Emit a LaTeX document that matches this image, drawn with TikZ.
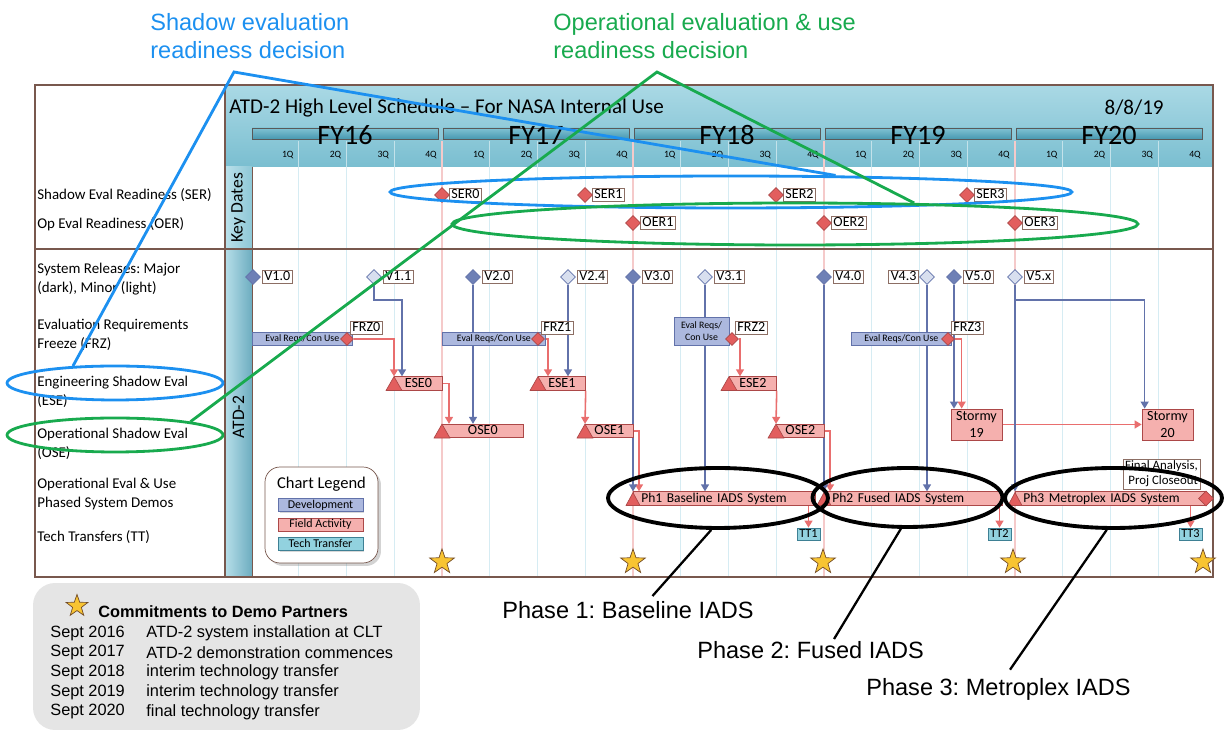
\documentclass[tikz,border=0pt]{standalone}
\usepackage{fontspec}
\setmainfont{Carlito}
\newfontfamily\annfont{Liberation Sans}
\usetikzlibrary{arrows.meta, shapes.geometric, positioning, calc, shadows}
\pgfdeclarelayer{grid}
\pgfdeclarelayer{links}
\pgfsetlayers{grid,links,main}
\definecolor{framebrown}{RGB}{120,88,78}
\definecolor{tagbrown}{RGB}{140,110,100}
\definecolor{headtop}{RGB}{170,217,229}
\definecolor{headbot}{RGB}{122,190,208}
\definecolor{fytop}{RGB}{128,194,211}
\definecolor{fybot}{RGB}{72,152,176}
\definecolor{gridblue}{RGB}{214,236,243}
\definecolor{gridred}{RGB}{245,202,202}
\definecolor{devfill}{RGB}{172,184,222}
\definecolor{devline}{RGB}{98,114,170}
\definecolor{devdark}{RGB}{110,128,182}
\definecolor{devlight}{RGB}{216,223,239}
\definecolor{fieldfill}{RGB}{245,176,174}
\definecolor{fieldline}{RGB}{172,72,72}
\definecolor{fieldred}{RGB}{226,94,94}
\definecolor{linkred}{RGB}{233,110,110}
\definecolor{ttfill}{RGB}{146,210,223}
\definecolor{ttline}{RGB}{62,128,148}
\definecolor{starfill}{RGB}{248,196,50}
\definecolor{annblue}{RGB}{28,144,240}
\definecolor{anngreen}{RGB}{24,170,78}
\definecolor{notegrey}{RGB}{229,229,229}
\frenchspacing

\begin{document}
\begin{tikzpicture}[
    x=0.02cm, y=-0.02cm,
    rowlabel/.style={anchor=west, align=left, inner sep=0pt, font=\fontsize{8.5}{10.8}\selectfont},
    datetag/.style={draw=tagbrown, fill=white, inner xsep=1.2pt, inner ysep=0pt, minimum height=0.27cm,
      text height=5.8pt, text depth=1.4pt, font=\fontsize{8}{9}\selectfont},
    keyms/.style={diamond, draw=fieldline, fill=fieldred, minimum size=0.3cm, inner sep=0pt},
    reldiamond/.style={diamond, draw=devline, minimum size=0.3cm, inner sep=0pt},
    evalbar/.style={draw=devline, fill=devfill, minimum height=0.26cm, inner sep=0pt, font=\fontsize{5.6}{6.6}\selectfont},
    fieldbar/.style={draw=fieldline, fill=fieldfill, minimum height=0.27cm, inner sep=0pt, anchor=west,
      text height=5.6pt, text depth=1.4pt, font=\fontsize{8}{9}\selectfont},
    fieldtri/.style={draw=fieldline, fill=fieldred, line join=round},
    stormbox/.style={draw=fieldline, fill=fieldfill, minimum width=1.02cm, minimum height=0.62cm, align=center,
      inner sep=0pt, font=\fontsize{8}{10}\selectfont},
    ttbox/.style={draw=ttline, fill=ttfill, minimum width=0.46cm, minimum height=0.24cm, inner sep=0pt,
      text height=5pt, text depth=1pt, font=\fontsize{7}{8}\selectfont},
    fybar/.style={draw=black!65, top color=fytop, bottom color=fybot, minimum width=3.72cm, minimum height=0.22cm,
      inner sep=0pt, anchor=west},
    qlabel/.style={anchor=east, inner sep=0pt, font=\fontsize{5.5}{6}\selectfont},
    devlink/.style={devline, line width=0.9pt, -{Triangle[length=4pt,width=4.5pt]}},
    redlink/.style={linkred, line width=0.9pt, -{Triangle[length=4pt,width=4.5pt]}},
    commit/.style={star, star points=5, star point ratio=2.5, draw=brown!60!black, fill=starfill, inner sep=0pt,
      minimum size=0.52cm},
    legendbox/.style={draw=framebrown, fill=white, rounded corners=0.3cm, minimum width=2.26cm, minimum height=1.92cm,
      drop shadow={opacity=0.35, shadow xshift=0.06cm, shadow yshift=-0.06cm}},
    legkey/.style={minimum width=1.7cm, minimum height=0.26cm, inner sep=0pt, text height=5pt, text depth=1.2pt,
      font=\fontsize{6.8}{8}\selectfont, drop shadow={opacity=0.3, shadow xshift=0.03cm, shadow yshift=-0.03cm}},
    oval/.style={ellipse, line width=1.6pt, inner sep=0pt},
    ring/.style={ellipse, draw=black, line width=2.2pt, inner sep=0pt},
    annot/.style={anchor=west, align=left, inner sep=0pt, font=\annfont\fontsize{13.4}{15.9}\selectfont},
    notetext/.style={anchor=west, inner sep=0pt, font=\annfont\fontsize{9.3}{11}\selectfont}
  ]
  \useasboundingbox (0,0) rectangle (1225,732);

  % background bands and time grid
  \begin{pgfonlayer}{grid}
    \fill[top color=headtop, bottom color=headbot] (225,85) rectangle (1213,167);
    \fill[left color=headtop!80!white, right color=headbot!85] (225,167) rectangle (252,249);
    \fill[left color=headtop!85, right color=fybot!80] (225,249) rectangle (252,577);
    \foreach \q in {1,...,19} {
      \draw[gridblue, line width=0.6pt] (251+47.75*\q,167) -- (251+47.75*\q,577);
      \draw[white!55!headbot, line width=0.6pt] (251+47.75*\q,141) -- (251+47.75*\q,167);
    }
    \foreach \q in {4,8,12,16}
      \draw[gridred, line width=0.6pt] (251+47.75*\q,141) -- (251+47.75*\q,577);
  \end{pgfonlayer}

  % frame
  \draw[framebrown, line width=0.8pt] (35,85) rectangle (1213,577);
  \draw[framebrown, line width=0.8pt] (225,85) -- (225,577);
  \draw[framebrown, line width=0.5pt] (252,167) -- (252,577);
  \draw[framebrown, line width=0.8pt] (35,249) -- (1213,249);

  % header
  \node[anchor=west, inner sep=0pt, font=\fontsize{12}{14}\selectfont] (title) at (229,108)
    {ATD-2 High Level Schedule -- For NASA Internal Use};
  \node[anchor=east, inner sep=0pt, font=\fontsize{12}{14}\selectfont] (issued) at (1164,108) {8/8/19};
  \foreach \fy [count=\k from 0] in {16,...,20} {
    \node[fybar] (fy\fy-bar) at (252+191*\k,133.5) {};
    \node[inner sep=0pt, font=\fontsize{16}{18}\selectfont] (fy\fy) at (345+191*\k,135) {FY\fy};
  }
  \foreach \q in {1,...,20} {
    \pgfmathtruncatemacro{\qn}{mod(\q-1,4)+1}
    \node[qlabel] (q\q) at (251+47.75*\q-5,155) {\qn Q};
  }

  % side strip
  \node[rotate=90, font=\fontsize{10}{12}\selectfont] (keydates) at (238.5,208) {Key Dates};
  \node[rotate=90, font=\fontsize{10}{12}\selectfont] (atd) at (238.5,417) {ATD-2};

  % row labels
  \node[rowlabel] (lab-ser) at (37,195) {Shadow Eval Readiness (SER)};
  \node[rowlabel] (lab-oer) at (37,224) {Op Eval Readiness (OER)};
  \node[rowlabel] (lab-rel) at (37,279.5) {System Releases: Major\\(dark), Minor (light)};
  \node[rowlabel] (lab-frz) at (37,335) {Evaluation Requirements\\Freeze (FRZ)};
  \node[rowlabel] (lab-ese) at (37,392) {Engineering Shadow Eval\\(ESE)};
  \node[rowlabel] (lab-ose) at (37,444) {Operational Shadow Eval\\(OSE)};
  \node[rowlabel] (lab-demo) at (37,494) {Operational Eval \& Use\\Phased System Demos};
  \node[rowlabel] (lab-tt) at (37,537) {Tech Transfers (TT)};

  % key dates
  \foreach \nm/\x/\y/\txt in {ser0/442/195/SER0, ser1/585/195/SER1, ser2/776/195/SER2, ser3/967/195/SER3,
      oer1/633/223/OER1, oer2/824/223/OER2, oer3/1015/223/OER3} {
    \node[datetag, anchor=west] (\nm-tag) at (\x+7,\y) {\txt};
    \node[keyms] (\nm) at (\x,\y) {};
  }

  % system releases
  \foreach \nm/\x/\fc/\txt in {v10/253/devdark/V1.0, v11/374/devlight/V1.1, v20/473/devdark/V2.0,
      v24/568/devlight/V2.4, v30/633/devdark/V3.0, v31/705/devlight/V3.1, v40/824/devdark/V4.0,
      v50/954/devdark/V5.0, v5x/1015/devlight/V5.x} {
    \node[datetag, anchor=west] (\nm-tag) at (\x+9,277) {\txt};
    \node[reldiamond, fill=\fc] (\nm) at (\x,277) {};
  }
  \node[datetag, anchor=east] (v43-tag) at (919,277) {V4.3};
  \node[reldiamond, fill=devlight] (v43) at (927,277) {};

  % requirements freeze
  \node[evalbar, anchor=west, minimum width=2cm] (er0) at (252,338.5) {Eval Reqs/Con Use};
  \node[evalbar, anchor=west, minimum width=2.06cm] (er1) at (442,338.5) {Eval Reqs/Con Use};
  \node[evalbar, align=center, minimum width=1.1cm, minimum height=0.56cm] (er2) at (701.5,331) {Eval Reqs/\\Con Use};
  \node[evalbar, anchor=west, minimum width=2cm] (er3) at (851,338.5) {Eval Reqs/Con Use};
  \foreach \nm/\x/\txt in {frz0/347/FRZ0, frz1/538/FRZ1, frz2/732/FRZ2, frz3/948/FRZ3} {
    \node[datetag, anchor=south west] (\nm-tag) at (\x+3,335) {\txt};
    \node[keyms, minimum size=0.26cm] (\nm) at (\x,339) {};
  }

  % shadow evaluations
  \foreach \nm/\xa/\xb/\y/\txt in {ese0/394/442/383.5/ESE0, ese1/538/585/383.5/ESE1, ese2/729/776/383.5/ESE2,
      ose0/442/523/431/OSE0, ose1/585/633/431/OSE1, ose2/776/824/431/OSE2} {
    \pgfmathsetmacro{\bw}{(\xb-\xa)*0.02}
    \node[fieldbar, minimum width=\bw cm] (\nm) at (\xa,\y) {\txt};
    \draw[fieldtri] (\nm.south west) ++(-8,0) -- ++(16,0) -- ++(-8,-14) -- cycle;
  }
  \node[stormbox] (st19) at (976.5,424.5) {Stormy\\19};
  \node[stormbox] (st20) at (1167.5,424.5) {Stormy\\20};

  % phased demos
  \node[fieldbar, text width=3.32cm, inner xsep=0.16cm, align=left, font=\fontsize{7.7}{9}\selectfont] (ph1)
    at (633,498.5) {Ph1 Baseline IADS System};
  \node[fieldbar, text width=3.24cm, inner xsep=0.16cm, align=left, font=\fontsize{7.7}{9}\selectfont] (ph2)
    at (824,498.5) {Ph2 Fused IADS System};
  \node[fieldbar, text width=3.5cm, inner xsep=0.16cm, align=left, font=\fontsize{7.7}{9}\selectfont] (ph3)
    at (1015,498.5) {Ph3 Metroplex IADS System};
  \foreach \nm in {ph1,ph2,ph3}
    \draw[fieldtri] (\nm.south west) ++(-7,0) -- ++(14,0) -- ++(-7,-13) -- cycle;
  \node[keyms] (closeout) at (1206,498.5) {};
  \node[datetag, align=right, inner ysep=1pt, text height=, text depth=, font=\fontsize{7.3}{8.6}\selectfont]
    (closeout-tag) at (1161.5,474) {Final Analysis,\\Proj Closeout};

  % tech transfers and commitments
  \foreach \nm/\x/\txt in {tt1/808.5/TT1, tt2/999.5/TT2, tt3/1190.5/TT3}
    \node[ttbox] (\nm) at (\x,534) {\txt};
  \foreach \x [count=\i] in {442,633,823,1013,1203}
    \node[commit] (star\i) at (\x,562) {};

  % legend
  \node[legendbox] (legend) at (321.5,515) {};
  \node[font=\fontsize{9.4}{11}\selectfont] (legend-title) at (321.5,484) {Chart Legend};
  \node[legkey, fill=devfill, draw=devline] (key-dev) at (320.5,505) {Development};
  \node[legkey, fill=fieldfill, draw=fieldline] (key-field) at (320.5,524.5) {Field Activity};
  \node[legkey, fill=ttfill, draw=ttline] (key-tt) at (320.5,544) {Tech Transfer};

  % connectors
  \begin{pgfonlayer}{links}
    \draw[devlink] (v11.south) -- ++(0,15) -| ([xshift=0.16cm]ese0.north west);
    \draw[redlink] (frz0.east) -| (ese0.north west);
    \draw[redlink] (ese0.east) -| ([xshift=0.14cm]ose0.north west);
    \draw[devlink] (v20.south) -- (v20.south |- ose0.north);
    \draw[redlink] (frz1.east) -| ([xshift=0.2cm]ese1.north west);
    \draw[devlink] (v24.south) -- (v24.south |- ese1.north);
    \draw[redlink] (ese1.south east) -- (ose1.north west);
    \draw[redlink] (ose1.east) -| ([xshift=0.12cm]ph1.north west);
    \draw[devlink] (v30.south) -- (v30.south |- ph1.north);
    \draw[devlink] (v31.south) -- (v31.south |- ph1.north);
    \draw[redlink] (frz2.east) -| ([xshift=0.22cm]ese2.north west);
    \draw[redlink] (ese2.south east) -- (ose2.north west);
    \draw[redlink] (ose2.east) -| ([xshift=0.12cm]ph2.north west);
    \draw[devlink] (v40.south) -- (v40.south |- ph2.north);
    \draw[devlink] (v43.south) -- (v43.south |- ph2.north);
    \draw[redlink] (frz3.east) -| ([xshift=0.22cm]st19.north west);
    \draw[devlink] (v50.south) -- (v50.south |- st19.north);
    \draw[redlink] (st19) -- (st20);
    \draw[devlink] (v5x.south) -- ++(0,15) -| ([xshift=0.06cm]st20.north west);
    \draw[devlink] (v5x.south) -- (v5x.south |- ph3.north);
    \foreach \nm/\ph in {tt1/ph1, tt2/ph2, tt3/ph3}
      \draw[redlink] (\nm.north |- \ph.south) -- (\nm.north);
  \end{pgfonlayer}

  % commitments note
  \node[fill=notegrey, rounded corners=0.44cm, minimum width=7.74cm, minimum height=2.94cm] (notes) at (226.5,656.5) {};
  \node[commit, minimum size=0.46cm] (notes-star) at (77,606) {};
  \node[notetext, font=\annfont\fontsize{9.3}{11}\bfseries\selectfont] (notes-title) at (98,612)
    {Commitments to Demo Partners};
  \foreach \yr/\what [count=\i from 0] in {2016/ATD-2 system installation at CLT, 2017/ATD-2 demonstration commences,
      2018/interim technology transfer, 2019/interim technology transfer, 2020/final technology transfer} {
    \node[notetext] (yr\yr) at (50,633+19.7*\i) {Sept \yr};
    \node[notetext] (what\yr) at (146,633+19.7*\i) {\what};
  }

  % phase call-outs
  \node[ring, minimum width=4.4cm, minimum height=1.2cm] (ph1ring) at (718,498) {};
  \node[ring, minimum width=3.8cm, minimum height=1.18cm] (ph2ring) at (907.5,497.5) {};
  \node[ring, minimum width=4.34cm, minimum height=1.2cm] (ph3ring) at (1113.5,498) {};
  \node[annot] (phase1) at (502,610) {Phase 1: Baseline IADS};
  \node[annot] (phase2) at (697,650) {Phase 2: Fused IADS};
  \node[annot] (phase3) at (866,689) {Phase 3: Metroplex IADS};
  \draw[line width=1.3pt] (ph1ring.258) -- ([xshift=0.49cm,yshift=0.1cm]phase1.north);
  \draw[line width=1.3pt] (ph2ring.258) -- ([xshift=0.47cm,yshift=0.04cm]phase2.north);
  \draw[line width=1.3pt] (ph3ring.258) -- ([xshift=0.23cm,yshift=0.16cm]phase3.north);

  % readiness decision call-outs
  \node[annot, text=annblue] (sernote) at (150,36) {Shadow evaluation\\readiness decision};
  \node[annot, text=anngreen] (oernote) at (553,36) {Operational evaluation \& use\\readiness decision};
  \node[oval, draw=annblue, minimum width=13.64cm, minimum height=0.64cm] (serov) at (731,192) {};
  \node[oval, draw=anngreen, minimum width=13.72cm, minimum height=0.84cm] (oerov) at (795,224) {};
  \node[oval, draw=annblue, minimum width=4.32cm, minimum height=0.68cm] (eseov) at (115,383) {};
  \node[oval, draw=anngreen, minimum width=4.32cm, minimum height=0.68cm] (oseov) at (115,435) {};
  \coordinate (serapex) at (234,72);
  \coordinate (oerapex) at (657,72);
  \draw[annblue, line width=1.6pt] (eseov.158) -- (serapex) -- (serov.9);
  \draw[anngreen, line width=1.6pt] (oseov.10) -- (oerapex) -- (oerov.10);
\end{tikzpicture}
\end{document}
